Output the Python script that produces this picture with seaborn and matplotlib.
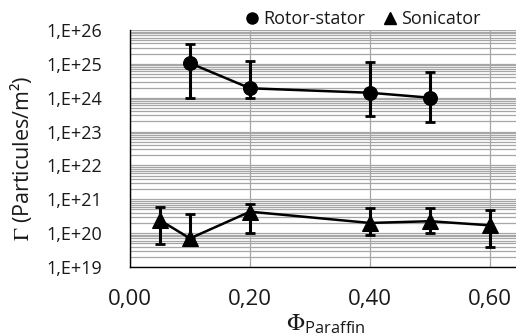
import numpy as np
import pandas as pd
import matplotlib
matplotlib.use("Agg")
import matplotlib.pyplot as plt
from matplotlib.ticker import LogLocator, MultipleLocator, NullFormatter
from matplotlib.lines import Line2D
import seaborn as sns

# ---- data ----
rs_x = [0.10, 0.20, 0.40, 0.50]
rs_y = [1.05e25, 1.9e24, 1.4e24, 1.0e24]
rs_hi = [3.9e25, 1.2e25, 1.15e25, 5.8e24]
rs_lo = [1.0e24, 1.0e24, 2.9e23, 1.9e23]

so_x = [0.05, 0.10, 0.20, 0.40, 0.50, 0.60]
so_y = [2.4e20, 7.0e19, 4.3e20, 2.0e20, 2.25e20, 1.7e20]
so_hi = [5.9e20, 3.6e20, 7.4e20, 5.5e20, 5.5e20, 4.8e20]
so_lo = [4.7e19, 7.0e19, 9.8e19, 9.1e19, 9.8e19, 3.9e19]

x_ticks = [0.0, 0.2, 0.4, 0.6]
x_ticklabels = ["0,00", "0,20", "0,40", "0,60"]
y_ticks = [1e19, 1e20, 1e21, 1e22, 1e23, 1e24, 1e25, 1e26]
y_ticklabels = ["1,E+19", "1,E+20", "1,E+21", "1,E+22", "1,E+23", "1,E+24", "1,E+25", "1,E+26"]

sns.set_theme(style="white")
plt.rcParams['font.family'] = ['Open Sans', 'DejaVu Sans']
plt.rcParams['mathtext.fontset'] = 'stix'

fig = plt.figure(figsize=(5.16, 3.36), dpi=100)
W, H = 516, 336
AX_L, AX_R, AX_T, AX_B = 130, 520, 30, 267
ax = fig.add_axes([AX_L / W, 1 - AX_B / H, (AX_R - AX_L) / W, (AX_B - AX_T) / H])

df_rs = pd.DataFrame({"x": rs_x, "y": rs_y})
df_so = pd.DataFrame({"x": so_x, "y": so_y})

ax.set_yscale("log")

ax.errorbar(rs_x, rs_y,
            yerr=[np.array(rs_y) - np.array(rs_lo), np.array(rs_hi) - np.array(rs_y)],
            fmt='none', ecolor='black', elinewidth=2.2, capsize=3.5, capthick=2, zorder=3)
ax.errorbar(so_x, so_y,
            yerr=[np.array(so_y) - np.array(so_lo), np.array(so_hi) - np.array(so_y)],
            fmt='none', ecolor='black', elinewidth=2.2, capsize=3.5, capthick=2, zorder=3)

sns.lineplot(data=df_rs, x="x", y="y", ax=ax, color="black", linewidth=1.8,
             marker="o", markersize=10, markeredgecolor="black",
             zorder=4, legend=False)
sns.lineplot(data=df_so, x="x", y="y", ax=ax, color="black", linewidth=1.8,
             marker="^", markersize=11, markeredgecolor="black",
             zorder=4, legend=False)

ax.set_xlim(0, 0.65)
ax.set_ylim(1e19, 1e26)

ax.set_yticks(y_ticks)
ax.set_yticklabels(y_ticklabels)
ax.yaxis.set_minor_locator(LogLocator(base=10, subs=np.arange(2, 10), numticks=100))
ax.yaxis.set_minor_formatter(NullFormatter())
ax.set_xticks(x_ticks)
ax.set_xticklabels(x_ticklabels)
ax.xaxis.set_minor_locator(MultipleLocator(0.05))

ax.grid(True, which='major', axis='both', color='#a6a6a6', linewidth=0.9)
ax.grid(True, which='minor', axis='y', color='#a6a6a6', linewidth=0.9)
ax.set_axisbelow(True)

for s in ['top', 'right']:
    ax.spines[s].set_visible(False)
for s in ['left', 'bottom']:
    ax.spines[s].set_color('black')
    ax.spines[s].set_linewidth(1.0)

ax.tick_params(axis='y', which='both', length=0, labelsize=13, pad=20, colors='#1a1a1a')
ax.tick_params(axis='x', which='major', direction='out', length=6, width=1,
               labelsize=16, pad=10, colors='black', labelcolor='#1a1a1a')
ax.tick_params(axis='x', which='minor', direction='in', length=6, width=1, colors='black')

ax.set_xlabel(r"$\Phi_{\mathregular{Paraffin}}$", fontsize=17, color='#1a1a1a')
ax.set_ylabel("$\\Gamma$ (Particules/m²)", fontsize=15.5, color='#1a1a1a')
ax.xaxis.set_label_coords((326 - AX_L) / (AX_R - AX_L), -(313 - AX_B) / (AX_B - AX_T))
ax.yaxis.set_label_coords(-(AX_L - 34) / (AX_R - AX_L), (AX_B - 158) / (AX_B - AX_T))

handles = [Line2D([], [], marker='o', color='black', linestyle='none', markersize=8),
           Line2D([], [], marker='^', color='black', linestyle='none', markersize=8)]
fig.legend(handles, ["Rotor-stator", "Sonicator"], loc='center', ncol=2,
           bbox_to_anchor=(362 / W, 1 - 19 / H), frameon=False, fontsize=13,
           handletextpad=0.1, columnspacing=0.9, handlelength=1.0, labelcolor='#1a1a1a')

fig.savefig("out.png", dpi=100)
